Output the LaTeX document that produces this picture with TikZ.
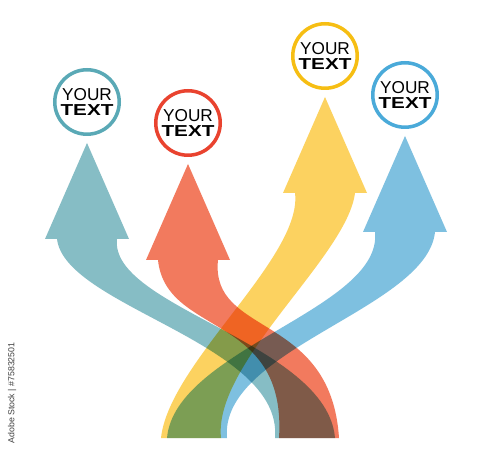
\documentclass[tikz,border=0pt]{standalone}
\usepackage{fontspec}
\setmainfont{Liberation Sans}
\definecolor{tealring}{RGB}{90,169,182}
\definecolor{redring}{RGB}{233,67,47}
\definecolor{yellowring}{RGB}{246,190,19}
\definecolor{bluering}{RGB}{74,170,217}
\definecolor{tealarrow}{RGB}{134,189,197}
\definecolor{redarrow}{RGB}{242,122,94}
\definecolor{yellowarrow}{RGB}{252,210,96}
\definecolor{bluearrow}{RGB}{126,192,224}
\newcommand\bentarrow[5]{%
	\fill [#1, blend mode=multiply]
		([shift={(-30,0)}]#2) .. controls ([shift={(-22,-#4)}]#2) and ([shift={(-22,137+#5)}]#3.center) .. ([shift={(-30,137)}]#3.center)
		-- ([shift={(-42,137)}]#3.center) -- ([shift={(0,41)}]#3.center) -- ([shift={(42,137)}]#3.center) -- ([shift={(30,137)}]#3.center)
		.. controls ([shift={(22,137+#5)}]#3.center) and ([shift={(22,-#4)}]#2) .. ([shift={(30,0)}]#2) -- cycle;
}

\begin{document}
\begin{tikzpicture} [
			x=0.02cm, y=-0.02cm,
			bubble/.style={circle, draw, line width=2pt, fill=white, minimum size=1.29cm, inner sep=0pt,
				align=center, font=\fontsize{9.8}{8.2}\selectfont},
			stockid/.style={rotate=90, font=\fontsize{5}{6}\selectfont, text=black!75}
		]
		\fill [white] (0,0) rectangle (500,452);
		\node at (87,102)  [bubble, draw=tealring]   (tealc)   {YOUR\\\scalebox{1.2}[0.92]{\bfseries TEXT}};
		\node at (188,123) [bubble, draw=redring]    (redc)    {YOUR\\\scalebox{1.2}[0.92]{\bfseries TEXT}};
		\node at (325,56)  [bubble, draw=yellowring] (yellowc) {YOUR\\\scalebox{1.2}[0.92]{\bfseries TEXT}};
		\node at (405,95)  [bubble, draw=bluering]   (bluec)   {YOUR\\\scalebox{1.2}[0.92]{\bfseries TEXT}};
		\coordinate (tealfoot)   at (305,438);
		\coordinate (redfoot)    at (309,438);
		\coordinate (yellowfoot) at (191,438);
		\coordinate (bluefoot)   at (197,438);
		
		\bentarrow{tealarrow}{tealfoot}{tealc}{95}{68}
		\bentarrow{redarrow}{redfoot}{redc}{126}{77}
		\bentarrow{yellowarrow}{yellowfoot}{yellowc}{75}{64}
		\bentarrow{bluearrow}{bluefoot}{bluec}{89}{77}
		
		\node at (12,393) [stockid] (stock) {Adobe Stock | \#75832501};
	\end{tikzpicture}
\end{document}
